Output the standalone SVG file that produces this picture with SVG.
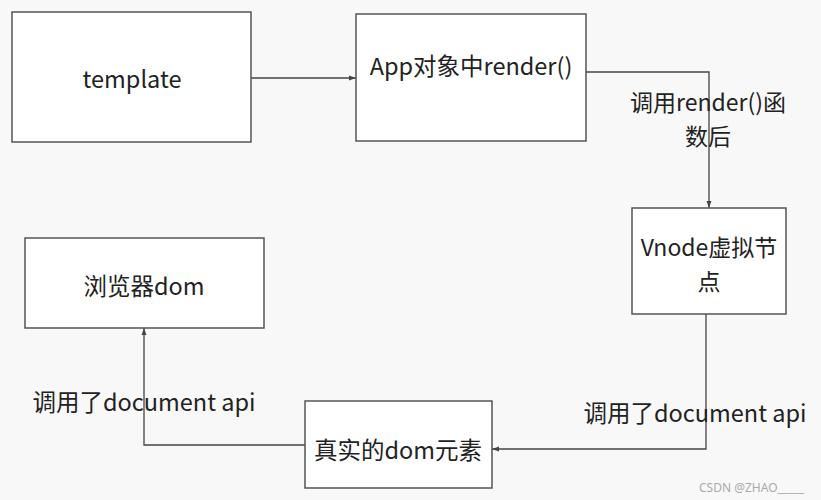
<svg xmlns="http://www.w3.org/2000/svg" width="821" height="500" viewBox="0 0 821 500">
<style>
.box{fill:#ffffff;stroke:#555555;stroke-width:1.5}
.t{font-family:"Noto Sans CJK SC","Noto Sans",sans-serif;font-size:23.5px;fill:#222222;text-anchor:middle;dominant-baseline:central}
.t2{font-family:"Noto Sans CJK SC","Noto Sans",sans-serif;font-size:23px;fill:#222222;text-anchor:middle;dominant-baseline:central}
.line{fill:none;stroke:#444444;stroke-width:1.3}
.wm{font-family:"Noto Sans","Liberation Sans",sans-serif;font-size:12px;fill:#aaaaaa}
</style>
<defs>
<marker id="arr" viewBox="0 0 10 10" refX="10" refY="5" markerWidth="7" markerHeight="7" orient="auto" markerUnits="userSpaceOnUse">
<path d="M0,1.5 L10,5 L0,8.5 Z" fill="#444444"/>
</marker>
</defs>
<rect width="821" height="500" fill="#f8f8f8"/>
<g id="connectors">
<path class="line" d="M251,78 L356,78" marker-end="url(#arr)"/>
<path class="line" d="M586,72 L709,72 L709,208" marker-end="url(#arr)"/>
<path class="line" d="M706,314 L706,449 L492,449" marker-end="url(#arr)"/>
<path class="line" d="M305,445 L144,445 L144,328" marker-end="url(#arr)"/>
<text class="t2"><tspan x="708" y="101">调用render()函</tspan><tspan x="708" y="134.5">数后</tspan></text>
<text class="t" x="144" y="401">调用了document api</text>
<text class="t" x="695" y="412">调用了document api</text>
</g>
<g id="template">
<rect class="box" x="12" y="12" width="239" height="130"/>
<text class="t" x="132" y="78">template</text>
</g>
<g id="app">
<rect class="box" x="356" y="14" width="230" height="127"/>
<text class="t" x="471" y="65">App对象中render()</text>
</g>
<g id="vnode">
<rect class="box" x="632" y="208" width="154" height="106"/>
<text class="t2"><tspan x="709" y="246">Vnode虚拟节</tspan><tspan x="709" y="279.5">点</tspan></text>
</g>
<g id="realdom">
<rect class="box" x="305" y="401" width="187" height="87"/>
<text class="t" x="398" y="449">真实的dom元素</text>
</g>
<g id="browserdom">
<rect class="box" x="25" y="238" width="239" height="90"/>
<text class="t" x="144" y="285">浏览器dom</text>
</g>
<text class="wm" x="699" y="492">CSDN @ZHAO_____</text>
</svg>
